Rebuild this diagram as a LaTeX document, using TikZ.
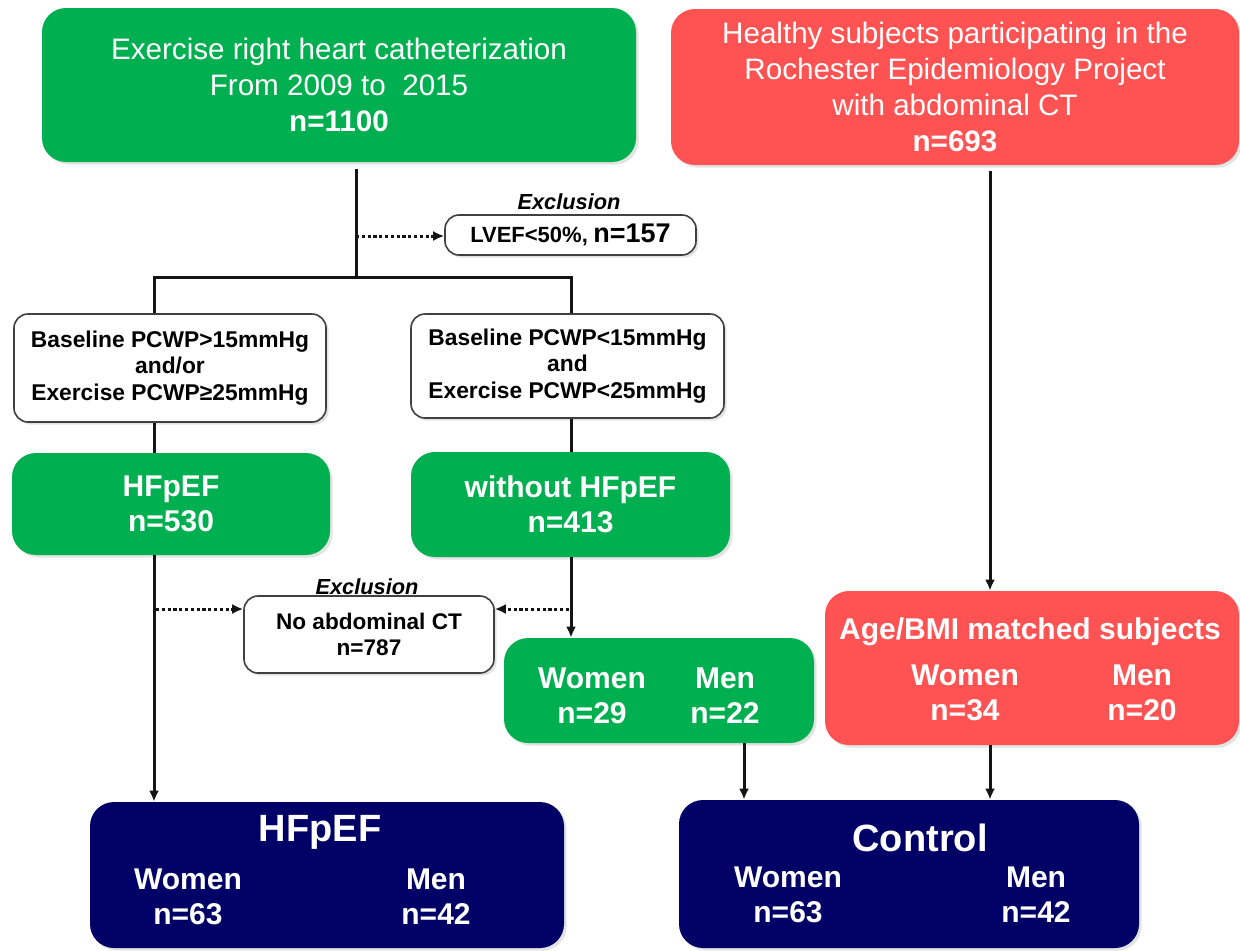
\documentclass[tikz,border=0pt]{standalone}
\usepackage{fontspec}
\setmainfont{Liberation Sans}
\usetikzlibrary{arrows.meta,shadows}
\definecolor{cgreen}{RGB}{0,176,80}
\definecolor{cred}{RGB}{255,82,82}
\definecolor{cnavy}{RGB}{0,0,102}
\definecolor{cline}{RGB}{20,20,20}
\tikzset{
  boxshadow/.style={drop shadow={opacity=0.22,shadow xshift=1.3pt,shadow yshift=-1.3pt}},
  colbox/.style={boxshadow, rounded corners=12pt, text=white, align=center, inner sep=0pt},
  gbox/.style={colbox, fill=cgreen},
  rbox/.style={colbox, fill=cred},
  nbox/.style={colbox, fill=cnavy},
  wbox/.style={boxshadow, draw=black!75, line width=0.8pt, fill=white, rounded corners=7pt,
               align=center, inner sep=0pt},
  toptext/.style={font=\fontsize{14.8}{18}\selectfont},
  crittext/.style={font=\fontsize{11.4}{13.3}\selectfont\bfseries},
  btext/.style={font=\fontsize{15}{17.5}\selectfont\bfseries, text=white, align=center, inner sep=0pt},
  headtext/.style={font=\fontsize{19}{22}\selectfont\bfseries, text=white, inner sep=0pt},
  excltext/.style={font=\fontsize{10.9}{12}\selectfont\bfseries\itshape, inner sep=0pt},
  link/.style={draw=cline, line width=1.5pt},
  arr/.style={link, -{Latex[length=5.5pt,width=5pt]}},
  darr/.style={draw=cline, line width=1.5pt, dash pattern=on 1.6pt off 1.3pt,
               -{Latex[length=5.5pt,width=5pt]}},
}
\begin{document}
\begin{tikzpicture}[x=0.5pt,y=-0.5pt]
\useasboundingbox (0,0) rectangle (1240,950);

% top boxes
\node[gbox, toptext, minimum width=297pt, minimum height=77pt] (top) at (339,85)
  {Exercise right heart catheterization\\From 2009 to~~2015\\\textbf{n=1100}};
\node[rbox, toptext, minimum width=284pt, minimum height=78pt] (red) at (955,87)
  {Healthy subjects participating in the\\Rochester Epidemiology Project\\with abdominal CT\\\textbf{n=693}};

% exclusion 1
\node[excltext] (ex1) at (569,202) {Exclusion};
\node[wbox, minimum width=125.5pt, minimum height=20pt, font=\bfseries] (lvef) at (570.5,235)
  {{\fontsize{11}{13}\selectfont LVEF<50\%,} {\fontsize{13.5}{16}\selectfont n=157}};

% criteria boxes
\node[wbox, crittext, minimum width=156pt, minimum height=54pt] (crit1) at (170,368)
  {Baseline PCWP>15mmHg\\and/or\\Exercise PCWP≥25mmHg};
\node[wbox, crittext, minimum width=156.5pt, minimum height=52pt] (crit2) at (567.5,366)
  {Baseline PCWP<15mmHg\\and\\Exercise PCWP<25mmHg};

% HFpEF / without
\node[gbox, btext, minimum width=159pt, minimum height=51pt] (hf1) at (171,504)
  {HFpEF\\n=530};
\node[gbox, btext, minimum width=159.5pt, minimum height=52.5pt] (hf0) at (570.5,504.5)
  {without HFpEF\\n=413};

% exclusion 2
\node[excltext] (ex2) at (367,587) {Exclusion};
\node[wbox, minimum width=125pt, minimum height=38.5pt, font=\fontsize{11.3}{13}\selectfont\bfseries] (noct) at (369,634.5)
  {No abdominal CT\\n=787};

% women/men green box
\node[gbox, minimum width=155pt, minimum height=52.5pt] (wm) at (659,690.5) {};
\node[btext] (wmw) at (592,695.5) {Women\\n=29};
\node[btext] (wmm) at (725,695.5) {Men\\n=22};

% age matched red box
\node[rbox, minimum width=207pt, minimum height=77pt] (age) at (1032,668) {};
\node[btext] (aget) at (1030,632) {Age/BMI matched subjects};
\node[btext] (agew) at (965,692.5) {Women\\n=34};
\node[btext] (agem) at (1142,692.5) {Men\\n=20};

% navy result boxes
\node[nbox, minimum width=237pt, minimum height=73pt] (nh) at (327,875) {};
\node[headtext] (nht) at (320,832) {HFpEF};
\node[btext] (nhw) at (188,897) {Women\\n=63};
\node[btext] (nhm) at (436,897) {Men\\n=42};

\node[nbox, minimum width=230pt, minimum height=74pt] (nc) at (909,874) {};
\node[headtext] (nct) at (920,838) {Control};
\node[btext] (ncw) at (788,895) {Women\\n=63};
\node[btext] (ncm) at (1036,895) {Men\\n=42};

% helper coordinates
\coordinate (j) at (356,277);
\coordinate (jl) at (154,277);
\coordinate (jr) at (571,277);
\coordinate (d1) at (356,236);
\coordinate (d2) at (156,609);
\coordinate (d3) at (569,609);
\coordinate (rx) at (990,0);
\coordinate (gx) at (744,0);

% connectors
\draw[link, shorten <=3.5pt] (top.south -| j) -- (j);
\draw[link] (crit1.north -| jl) -- (jl) -- (jr) -- (crit2.north -| jr);
\draw[darr] (d1) -- (d1 -| lvef.west);
\draw[link] (crit1.south -| jl) -- (hf1.north -| jl);
\draw[link] (crit2.south -| jr) -- (hf0.north -| jr);
\draw[arr] (hf1.south -| jl) -- (nh.north -| jl);
\draw[arr] (hf0.south -| jr) -- (wm.north -| jr);
\draw[darr] (d2) -- (d2 -| noct.west);
\draw[darr] (d3) -- (d3 -| noct.east);
\draw[arr, shorten <=3pt] (red.south -| rx) -- (age.north -| rx);
\draw[arr] (wm.south -| gx) -- (nc.north -| gx);
\draw[arr] (age.south -| rx) -- (nc.north -| rx);
\end{tikzpicture}
\end{document}
